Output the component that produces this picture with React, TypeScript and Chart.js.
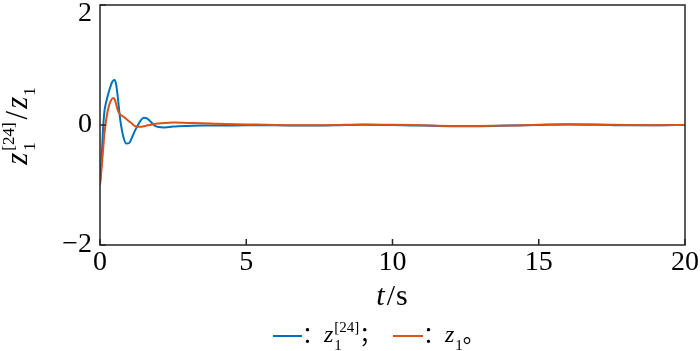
import React, { useEffect, useRef } from "react";
import { Chart, registerables } from "chart.js";
Chart.register(...registerables);

const times = [0, 0.05, 0.1, 0.15, 0.2, 0.25, 0.3, 0.35, 0.4, 0.45, 0.5, 0.55, 0.6, 0.65, 0.7, 0.8, 0.9, 1.0, 1.1, 1.2, 1.3, 1.4, 1.5, 1.6, 1.7, 1.8, 1.9, 2.0, 2.2, 2.5, 3, 3.5, 4, 5, 6, 7, 8, 9, 10, 11, 12, 13, 14, 15, 16, 17, 18, 19, 20];
const blueValues = [-1.0, -0.6, -0.1, 0.22, 0.36, 0.46, 0.55, 0.63, 0.7, 0.74, 0.75, 0.68, 0.5, 0.27, 0.06, -0.2, -0.31, -0.3, -0.2, -0.09, 0.0, 0.08, 0.12, 0.11, 0.07, 0.02, -0.02, -0.035, -0.04, -0.025, -0.015, -0.01, -0.01, -0.005, -0.005, -0.01, -0.005, 0.005, 0.0, -0.01, -0.02, -0.02, -0.01, 0.0, 0.01, 0.005, -0.005, -0.005, 0.0];
const orangeValues = [-0.98, -0.75, -0.45, -0.15, 0.05, 0.2, 0.31, 0.38, 0.43, 0.45, 0.43, 0.35, 0.26, 0.2, 0.17, 0.14, 0.1, 0.06, 0.02, -0.02, -0.03, -0.03, -0.02, -0.01, 0.0, 0.01, 0.02, 0.025, 0.035, 0.04, 0.035, 0.03, 0.02, 0.01, 0.0, -0.005, 0.0, 0.01, 0.005, -0.005, -0.015, -0.015, -0.01, 0.005, 0.012, 0.008, 0.0, -0.003, 0.0];
const xTicks = [0, 5, 10, 15, 20];
const yTicks = [-2, 0, 2];

const BLUE = "#0072BD";
const ORANGE = "#D95319";
const SERIF = '"Liberation Serif", "Times New Roman", "Noto Sans CJK SC", serif';

type Seg = { t: string; italic?: boolean; size: number; dy?: number; noAdvance?: boolean; gap?: number };

function segFont(s: Seg) {
  return `${s.italic ? "italic " : ""}${s.size}px ${SERIF}`;
}

function richWidth(ctx: CanvasRenderingContext2D, segs: Seg[]) {
  let w = 0;
  for (const s of segs) {
    if (s.noAdvance) continue;
    ctx.font = segFont(s);
    w += ctx.measureText(s.t).width + (s.gap || 0);
  }
  return w;
}

function drawRich(ctx: CanvasRenderingContext2D, segs: Seg[], x: number, y: number, align: "left" | "center") {
  let cx = align === "center" ? x - richWidth(ctx, segs) / 2 : x;
  ctx.textAlign = "left";
  ctx.textBaseline = "alphabetic";
  ctx.fillStyle = "#000";
  for (const s of segs) {
    ctx.font = segFont(s);
    ctx.fillText(s.t, cx, y + (s.dy || 0));
    if (!s.noAdvance) cx += ctx.measureText(s.t).width + (s.gap || 0);
  }
  return cx;
}

const framePlugin = {
  id: "framePlugin",
  afterDraw(chart: any) {
    const ctx: CanvasRenderingContext2D = chart.ctx;
    const { left, right, top, bottom } = chart.chartArea;
    const xs = chart.scales.x;
    const ys = chart.scales.y;
    ctx.save();
    ctx.strokeStyle = "#262626";
    ctx.lineWidth = 1.5;
    ctx.strokeRect(left, top, right - left, bottom - top);
    ctx.beginPath();
    for (const v of xTicks) {
      const px = xs.getPixelForValue(v);
      ctx.moveTo(px, bottom);
      ctx.lineTo(px, bottom - 6);
    }
    for (const v of yTicks) {
      const py = ys.getPixelForValue(v);
      ctx.moveTo(left, py);
      ctx.lineTo(left + 6, py);
    }
    ctx.stroke();

    // y-axis title
    ctx.save();
    ctx.translate(27, 126);
    ctx.rotate(-Math.PI / 2);
    drawRich(ctx, [
      { t: "z", italic: true, size: 31, gap: 2 },
      { t: "1", size: 17, dy: 8, noAdvance: true },
      { t: "[24]", size: 17, dy: -13, gap: 3 },
      { t: "/", size: 31, gap: 2 },
      { t: "z", italic: true, size: 31, gap: 1 },
      { t: "1", size: 17, dy: 8 },
    ], 0, 0, "center");
    ctx.restore();

    // x-axis title
    drawRich(ctx, [
      { t: "t", italic: true, size: 30, gap: 2 },
      { t: "/", size: 30, gap: 1 },
      { t: "s", size: 30 },
    ], 392, 305, "center");

    // legend
    const ly = 336;
    ctx.lineWidth = 2;
    ctx.strokeStyle = BLUE;
    ctx.beginPath();
    ctx.moveTo(273, ly);
    ctx.lineTo(302, ly);
    ctx.stroke();
    drawRich(ctx, [
      { t: "：", size: 22 },
      { t: "z", italic: true, size: 24, gap: 1 },
      { t: "1", size: 15, dy: 8, noAdvance: true },
      { t: "[24]", size: 15, dy: -10 },
      { t: "；", size: 22 },
    ], 302, 342, "left");
    ctx.strokeStyle = ORANGE;
    ctx.beginPath();
    ctx.moveTo(393, ly);
    ctx.lineTo(423, ly);
    ctx.stroke();
    drawRich(ctx, [
      { t: "：", size: 22 },
      { t: "z", italic: true, size: 24, gap: 1 },
      { t: "1", size: 15, dy: 8 },
      { t: "。", size: 22 },
    ], 423, 342, "left");
    ctx.restore();
  },
};

export default function App() {
  const ref = useRef<HTMLCanvasElement>(null);
  useEffect(() => {
    if (!ref.current) return;
    const chart = new Chart(ref.current, {
      type: "line",
      data: {
        datasets: [
          {
            label: "z1[24]",
            data: times.map((t, i) => ({ x: t, y: blueValues[i] })),
            borderColor: BLUE,
            borderWidth: 2,
            pointRadius: 0,
            cubicInterpolationMode: "monotone",
            order: 1,
          },
          {
            label: "z1",
            data: times.map((t, i) => ({ x: t, y: orangeValues[i] })),
            borderColor: ORANGE,
            borderWidth: 2,
            pointRadius: 0,
            cubicInterpolationMode: "monotone",
            order: 0,
          },
        ],
      },
      options: {
        animation: false,
        responsive: false,
        layout: { padding: { left: 0, right: 15, top: 5, bottom: 0 } },
        plugins: { legend: { display: false }, tooltip: { enabled: false } },
        scales: {
          x: {
            type: "linear",
            min: 0,
            max: 20,
            grid: { display: false, drawTicks: false },
            border: { display: false },
            ticks: {
              stepSize: 5,
              padding: 1,
              color: "#000",
              font: { family: SERIF, size: 28 },
              maxRotation: 0,
            },
            afterFit(scale: any) {
              scale.height = 106;
              scale.paddingLeft = 0;
              scale.paddingRight = 0;
            },
          },
          y: {
            type: "linear",
            min: -2,
            max: 2,
            grid: { display: false, drawTicks: false },
            border: { display: false },
            ticks: {
              stepSize: 2,
              padding: 8,
              color: "#000",
              font: { family: SERIF, size: 28, lineHeight: "18px" },
              callback: (v: any) => (v === 2 ? ["", "2"] : v === -2 ? "−2" : String(v)),
            },
            afterFit(scale: any) {
              scale.width = 100;
              scale.paddingTop = 0;
              scale.paddingBottom = 0;
            },
          },
        },
      },
      plugins: [framePlugin],
    });
    return () => chart.destroy();
  }, []);
  return (
    <div style={{ position: "fixed", left: 0, top: 0, width: 700, height: 351, background: "#fff" }}>
      <canvas ref={ref} width={700} height={351} />
    </div>
  );
}
